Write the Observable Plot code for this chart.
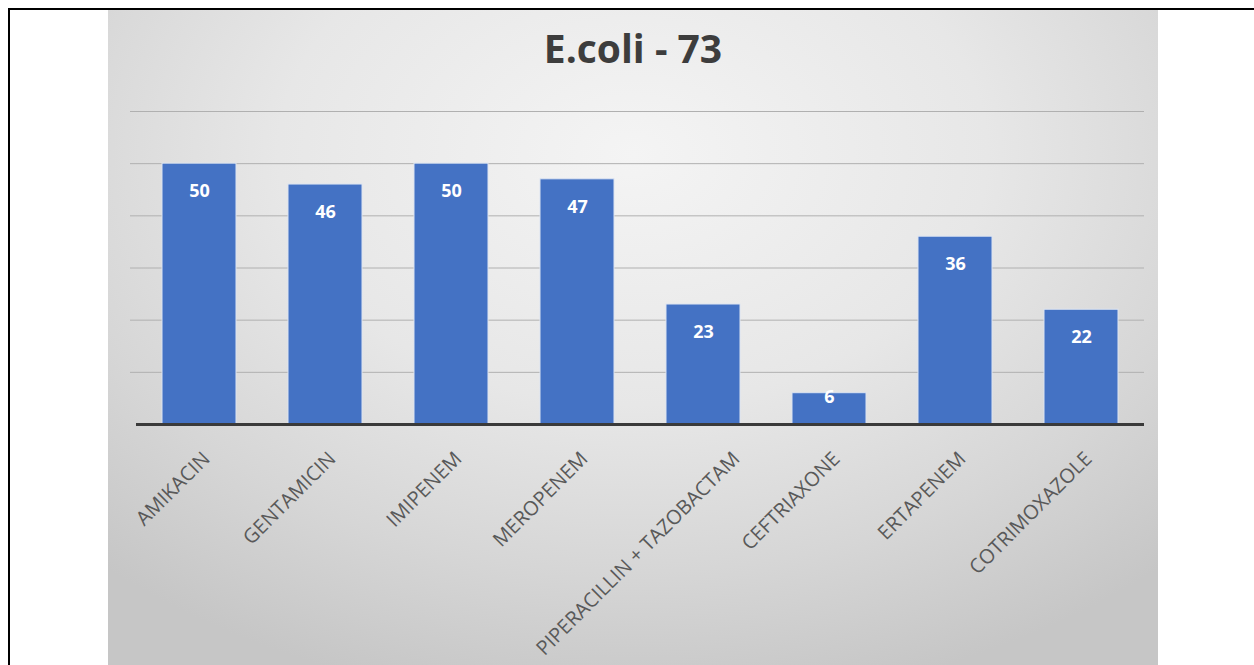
<!DOCTYPE html>
<html>
<head>
<meta charset="utf-8">
<script src="https://cdn.jsdelivr.net/npm/d3@7"></script>
<script src="https://cdn.jsdelivr.net/npm/@observablehq/plot@0.6"></script>
<style>
  html, body { margin: 0; padding: 0; background: #fff; }
  body { width: 1254px; height: 665px; position: relative; overflow: hidden; }
  .frame {
    position: absolute; left: 8px; top: 8px; width: 1246px; height: 657px;
    border-top: 2px solid #000; border-left: 2px solid #000; box-sizing: border-box;
  }
  .panel {
    position: absolute; left: 108px; top: 10px; width: 1050px; height: 655px;
    overflow: hidden;
    background: radial-gradient(ellipse 75% 85% at 50% 22%, #f4f4f4 0%, #e7e7e7 45%, #d6d6d6 75%, #c6c6c6 100%);
  }
  .title {
    position: absolute; left: 0; top: 18px; width: 100%; text-align: center;
    font-family: "Open Sans", sans-serif; font-weight: 700; font-size: 39px;
    color: #3d3d3d; line-height: 39px;
  }
  #chart { position: absolute; left: 0; top: 0; }
</style>
</head>
<body>
<div class="frame"></div>
<div class="panel">
  <div class="title">E.coli - 73</div>
  <div id="chart"></div>
</div>
<script>
// Number of E. coli isolates susceptible to each antibiotic
const drugs = [
  "AMIKACIN", "GENTAMICIN", "IMIPENEM", "MEROPENEM",
  "PIPERACILLIN + TAZOBACTAM", "CEFTRIAXONE", "ERTAPENEM", "COTRIMOXAZOLE"
];
const counts = [50, 46, 50, 47, 23, 6, 36, 22];
const gridTicks = [10, 20, 30, 40, 50, 60];

const data = drugs.map((drug, i) => ({drug, count: counts[i]}));
const font = "Open Sans, sans-serif";

// category labels: long names sit a little further right of their bar
const labelStyle = {
  x: "drug", y: 0, text: "drug", rotate: -45, textAnchor: "end",
  dy: 31, fill: "#595959", fontSize: 20, fontFamily: font
};
// value labels sit inside the top of each bar; very short bars keep them near the top edge
const valueStyle = {
  x: "drug", y: "count", text: d => String(d.count),
  fill: "#fff", fontWeight: 700, fontSize: 18, fontFamily: font
};

const chart = Plot.plot({
  width: 1050,
  height: 655,
  marginLeft: 28,
  marginRight: 14,
  marginTop: 101,
  marginBottom: 241,
  style: {background: "transparent", overflow: "visible"},
  x: {domain: drugs, paddingInner: 0.41, paddingOuter: 0.205, axis: null},
  y: {domain: [0, 60], axis: null},
  marks: [
    Plot.ruleY(gridTicks, {stroke: "#b0b0b0", strokeWidth: 1, insetLeft: -6}),
    Plot.barY(data, {x: "drug", y: "count", fill: "#4472c4", stroke: "#dce4f2", strokeWidth: 1}),
    Plot.ruleY([0], {stroke: "#3a3a3a", strokeWidth: 3}),
    Plot.text(data.filter(d => d.count > 10), {...valueStyle, dy: 28}),
    Plot.text(data.filter(d => d.count <= 10), {...valueStyle, dy: 4}),
    Plot.text(data.filter(d => d.drug.length <= 20), {...labelStyle, dx: 7}),
    Plot.text(data.filter(d => d.drug.length > 20), {...labelStyle, dx: 33})
  ]
});
document.getElementById("chart").appendChild(chart);
</script>
</body>
</html>
